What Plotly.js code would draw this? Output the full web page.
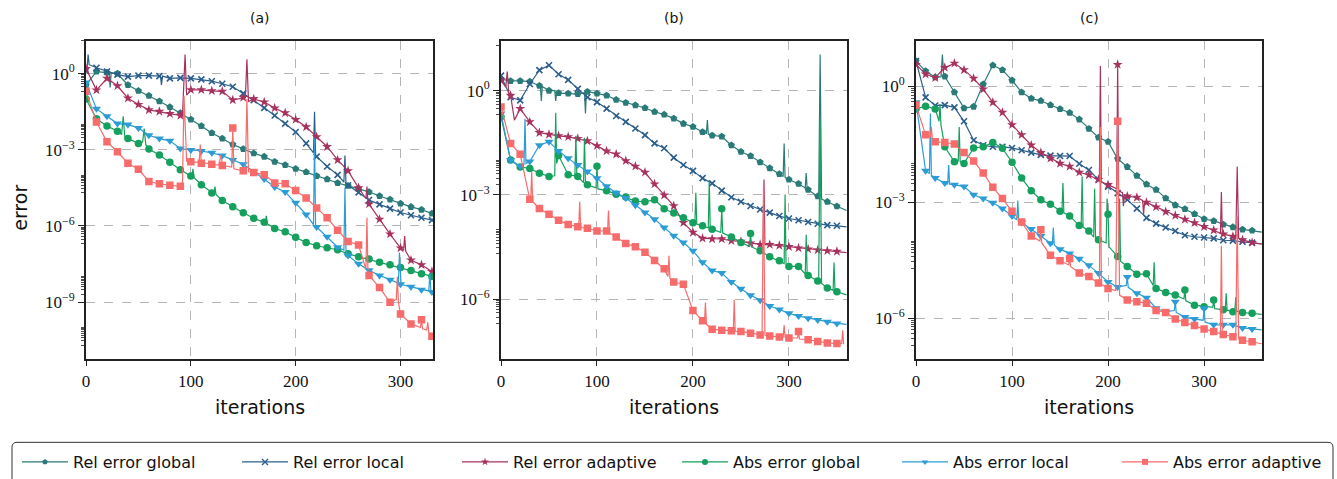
<!DOCTYPE html>
<html><head><meta charset="utf-8">
<script src="https://cdn.plot.ly/plotly-3.0.1.min.js"></script>
<style>html,body{margin:0;padding:0;background:#fff}#chart{width:1337px;height:479px}</style>
</head><body><div id="chart"></div>
<script>
// ---------------- DATA (values are log10(error)) ----------------
// Markers are at iterations 0,10,20,...; "extra" lists hold [iteration, log10(error)] points
// read between markers (spikes, kinks, end of curve).
const seriesNames = ['Rel error global','Rel error local','Rel error adaptive','Abs error global','Abs error local','Abs error adaptive'];
const markerStep = 10;
const xTicks = [0, 100, 200, 300];

// ---- panel (a) ----
const a_relGlobal = [-0.45,0.08,0.04,0.0,-0.45,-0.68,-0.87,-1.09,-1.32,-1.55,-1.81,-2.06,-2.34,-2.56,-2.79,-2.97,-3.14,-3.27,-3.47,-3.60,-3.75,-3.88,-4.03,-4.16,-4.31,-4.42,-4.53,-4.66,-4.82,-4.96,-5.12,-5.25,-5.36,-5.51];
const a_relGlobal_extra = [[22,0.04],[23,-0.55],[24,0.03]];
const a_relLocal = [0.1,0.23,0.08,-0.04,-0.12,-0.08,-0.08,-0.1,-0.19,-0.17,-0.19,-0.23,-0.3,-0.4,-0.52,-0.78,-1.05,-1.35,-1.65,-1.97,-2.30,-2.75,-3.27,-3.66,-3.99,-4.4,-4.68,-4.98,-5.15,-5.32,-5.47,-5.58,-5.68,-5.77];
const a_relLocal_extra = [[1,0.2],[2,0.75],[3,0.35],[71,-0.1],[72,-0.45],[73,-0.1],[217,-3.12],[218,-1.5],[219,-3.2],[246,-4.27],[247,-3.23],[248,-4.33]];
const a_relAdaptive = [0.2,-0.65,-0.19,-0.48,-0.97,-1.22,-1.43,-1.49,-1.58,-1.65,-0.64,-0.64,-0.68,-0.70,-1.04,-0.94,-1.0,-1.12,-1.36,-1.55,-1.81,-2.10,-2.49,-2.88,-3.40,-3.83,-4.50,-5.14,-5.74,-6.32,-6.87,-7.35,-7.53,-7.80];
const a_relAdaptive_extra = [[92,-1.68],[94.5,0.75],[96,-0.85],[152,-0.95],[153.5,0.56],[155,-1.1],[267,-4.92],[268,-4.45],[269,-5.1],[303,-6.95],[304,-6.4],[305,-7.0]];
const a_absGlobal = [-1.0,-1.78,-2.06,-2.27,-2.56,-2.75,-2.97,-3.21,-3.49,-3.79,-4.03,-4.38,-4.70,-5.0,-5.25,-5.48,-5.70,-5.86,-6.10,-6.23,-6.45,-6.65,-6.78,-6.86,-6.94,-7.10,-7.21,-7.30,-7.43,-7.53,-7.64,-7.76,-7.88,-7.99];
const a_absGlobal_extra = [[34,-2.4],[35.5,-1.68],[37,-2.5],[54,-2.7],[55.5,-2.17],[57,-2.8],[101,-4.1],[102,-3.75],[103,-4.1],[122,-4.74],[123,-4.45],[124,-4.76],[171,-5.88],[172,-5.6],[173,-5.92]];
const a_absLocal = [-0.35,-1.39,-1.68,-1.97,-2.01,-2.14,-2.43,-2.56,-2.65,-2.95,-3.01,-3.05,-3.12,-3.23,-3.40,-3.57,-3.86,-4.15,-4.47,-4.66,-5.09,-5.55,-6.04,-6.43,-6.84,-7.17,-7.49,-7.75,-7.95,-8.12,-8.30,-8.40,-8.51,-8.60];
const a_absLocal_extra = [[217,-5.95],[218,-2.55],[219,-6.0],[246,-6.95],[247,-4.5],[248,-7.0],[298,-8.25],[299,-7.05],[300.5,-8.3],[327,-8.56],[328,-7.85],[329,-8.58]];
const a_absAdaptive = [-0.7,-1.91,-2.69,-3.08,-3.53,-3.77,-4.25,-4.34,-4.40,-4.44,-3.47,-3.53,-3.57,-3.62,-2.14,-3.83,-3.90,-3.98,-4.31,-4.34,-4.61,-4.90,-5.29,-5.68,-6.17,-6.61,-6.75,-7.95,-8.43,-9.01,-9.47,-9.86,-9.70,-10.35];
const a_absAdaptive_extra = [[92,-4.45],[93.5,-0.87],[96,-3.45],[108,-3.5],[109,-2.79],[110.5,-3.5],[127,-3.6],[128.5,-3.2],[130.5,-3.62],[139,-3.68],[141,-3.75],[152,-3.85],[153.5,-1.0],[155,-3.87],[267,-7.7],[268,-5.68],[269,-7.9],[296,-8.9],[297,-8.0],[298,-9.0],[319,-10.0],[321,-10.05],[325,-10.1],[326,-9.8],[327,-10.2]];

// ---- panel (b) ----
const b_relGlobal = [0.33,0.28,0.28,0.26,0.14,0.0,-0.07,-0.08,-0.1,-0.03,-0.08,-0.14,-0.26,-0.35,-0.42,-0.5,-0.61,-0.69,-0.8,-0.95,-1.04,-1.19,-1.29,-1.32,-1.57,-1.76,-1.88,-2.06,-2.23,-2.4,-2.56,-2.68,-2.85,-3.04,-3.2,-3.33];
const b_relGlobal_extra = [[41,0.13],[42,-0.3],[43,0.12],[56,0.0],[57,-0.3],[58,-0.05],[87,-0.06],[88,-0.66],[89,-0.04],[214,-1.23],[215,-0.85],[216,-1.26],[294,-2.47],[295,-1.52],[296,-2.5],[317,-2.8],[318,-2.37],[319,-2.83],[331,-3.07],[332.5,1.04],[334,-3.12],[360,-3.45]];
const b_relLocal = [0.43,-0.19,-0.28,0.19,0.59,0.73,0.47,0.31,0.05,-0.19,-0.33,-0.52,-0.73,-0.90,-1.09,-1.28,-1.52,-1.66,-1.93,-2.14,-2.31,-2.52,-2.67,-2.88,-3.07,-3.2,-3.32,-3.42,-3.51,-3.61,-3.68,-3.73,-3.78,-3.83,-3.87,-3.89];
const b_relLocal_extra = [[360,-3.92]];
const b_relAdaptive = [0.3,-0.14,-0.52,-0.9,-1.21,-1.26,-1.30,-1.33,-1.38,-1.45,-1.59,-1.74,-1.83,-2.02,-2.18,-2.35,-2.69,-3.01,-3.32,-3.80,-4.08,-4.25,-4.27,-4.27,-4.32,-4.34,-4.39,-4.43,-4.43,-4.46,-4.49,-4.53,-4.56,-4.59,-4.61,-4.63];
const b_relAdaptive_extra = [[5,0.1],[6.5,0.55],[8,-0.05],[14,-0.85],[273,-4.43],[274,-2.56],[275,-4.43],[360,-4.66]];
const b_absGlobal = [-0.75,-2.0,-2.2,-2.24,-2.38,-2.47,-1.87,-2.42,-2.47,-2.71,-2.18,-2.88,-2.98,-3.06,-3.18,-3.2,-3.14,-3.40,-3.52,-3.66,-3.8,-3.89,-3.99,-3.40,-4.21,-4.37,-4.11,-4.61,-4.78,-4.90,-5.06,-5.06,-5.32,-5.48,-5.68,-5.79];
const b_absGlobal_extra = [[56,-2.45],[57,-0.64],[58,-2.1],[77,-2.45],[78,-1.3],[79,-2.45],[86,-2.65],[87,-1.36],[88,-2.68],[99,-2.8],[101,-2.83],[202,-3.82],[203,-2.94],[204,-3.84],[216,-3.95],[217,-2.58],[218,-3.97],[229,-4.08],[231,-4.1],[259,-4.48],[261,-4.5],[295,-4.98],[296,-2.99],[297,-5.0],[317,-5.28],[318,-4.15],[319,-5.3],[331,-5.5],[332.5,-0.85],[334,-5.55],[346,-5.75],[347,-4.95],[348,-5.77],[360,-5.88]];
const b_absLocal = [-0.66,-2.0,-2.18,-2.04,-1.57,-1.47,-1.74,-1.95,-2.14,-2.33,-2.52,-2.75,-2.94,-3.09,-3.3,-3.51,-3.70,-3.94,-4.18,-4.37,-4.61,-4.94,-5.18,-5.25,-5.51,-5.70,-5.89,-6.03,-6.2,-6.30,-6.41,-6.49,-6.55,-6.6,-6.65,-6.7];
const b_absLocal_extra = [[24,-2.1],[25,-0.81],[26,-2.1],[360,-6.73]];
const b_absAdaptive = [-0.47,-1.52,-1.83,-3.13,-3.39,-3.56,-3.73,-3.85,-3.92,-3.96,-4.04,-4.04,-4.21,-4.40,-4.49,-4.65,-4.89,-5.13,-5.51,-5.57,-6.33,-6.62,-6.87,-6.9,-6.91,-6.93,-6.98,-7.03,-7.06,-7.09,-7.12,-6.93,-7.17,-7.22,-7.26,-7.28];
const b_absAdaptive_extra = [[31,-3.15],[32,-2.33],[33,-3.2],[81,-3.93],[82,-3.2],[83,-3.94],[111,-4.04],[112,-3.45],[113,-4.1],[174,-5.35],[175,-4.75],[176,-5.4],[212,-6.68],[213,-6.1],[214,-6.72],[242,-6.91],[243,-6.03],[244,-6.92],[272,-7.03],[273.5,-2.75],[275,-7.04],[294,-7.1],[295,-6.75],[296,-7.1],[309,-7.12],[311,-7.15],[355,-7.28],[356,-6.9],[357,-7.3]];

// ---- panel (c) ----
const c_relGlobal = [0.66,0.40,0.24,0.26,-0.15,-0.56,-0.52,0.06,0.55,0.43,0.16,-0.15,-0.31,-0.37,-0.48,-0.58,-0.68,-0.85,-1.09,-1.32,-1.43,-1.87,-2.08,-2.31,-2.53,-2.67,-2.89,-3.07,-3.17,-3.30,-3.43,-3.48,-3.57,-3.64,-3.70,-3.73];
const c_relGlobal_extra = [[26,0.25],[27.5,0.83],[29,0.2],[360,-3.77]];
const c_relLocal = [0.66,-0.28,-0.49,-0.48,-0.54,-0.9,-1.39,-1.52,-1.56,-1.56,-1.59,-1.65,-1.71,-1.77,-1.79,-1.8,-1.8,-2.0,-2.16,-2.41,-2.59,-2.76,-2.93,-3.16,-3.40,-3.55,-3.65,-3.74,-3.85,-3.89,-3.91,-3.93,-3.98,-3.99,-4.02,-4.04];
const c_relLocal_extra = [[360,-4.07]];
const c_relAdaptive = [0.57,0.32,0.23,0.49,0.60,0.43,0.21,-0.07,-0.41,-0.67,-0.99,-1.25,-1.52,-1.71,-1.86,-1.99,-2.07,-2.22,-2.29,-2.41,-2.54,0.57,-2.84,-2.87,-3.0,-3.12,-3.24,-3.34,-3.44,-3.53,-3.63,-3.72,-3.82,-3.88,-3.97,-4.04];
const c_relAdaptive_extra = [[191,-2.43],[192,0.53],[193,-2.47],[209,-2.65],[211,-2.7],[215,-2.75],[216,-3.1],[217,-2.8],[236,-2.95],[237,-3.31],[238,-2.98],[317,-3.8],[318,-2.73],[319,-3.81],[333,-3.9],[334.5,-2.07],[336,-3.93],[360,-4.08]];
const c_absGlobal = [-0.58,-0.51,-0.58,-1.56,-1.95,-1.99,-1.59,-1.56,-1.45,-1.60,-1.96,-2.37,-2.70,-2.93,-3.05,-3.23,-3.35,-3.6,-3.74,-3.97,-3.31,-4.4,-4.66,-4.86,-4.85,-5.23,-5.33,-5.40,-5.27,-5.66,-5.70,-5.53,-5.78,-5.83,-5.85,-5.87];
const c_absGlobal_extra = [[24,-0.9],[25,-0.45],[26,-1.0],[44,-1.93],[45,-1.05],[46,-1.95],[152,-3.25],[153,-2.5],[154,-3.27],[172,-3.62],[173,-2.33],[174,-3.64],[185,-3.9],[186,-2.65],[187,-3.93],[198,-4.05],[199,-2.9],[201,-4.15],[211,-4.48],[212,-2.9],[213,-4.52],[247,-5.15],[248,-4.55],[249,-5.2],[279,-5.5],[281,-5.55],[309,-5.72],[311,-5.75],[322,-5.78],[323,-5.35],[324,-5.79],[332,-5.81],[333,-5.45],[334,-5.82],[360,-5.9]];
const c_absLocal = [-0.41,-2.18,-2.37,-2.5,-2.54,-2.59,-2.80,-2.90,-3.01,-3.16,-3.35,-3.52,-3.69,-3.87,-4.06,-4.21,-4.32,-4.46,-4.63,-4.83,-5.06,-5.19,-4.93,-5.35,-5.47,-5.74,-5.83,-5.57,-5.97,-6.02,-5.74,-6.17,-6.17,-6.17,-6.25,-6.28];
const c_absLocal_extra = [[14,-2.25],[15,-0.7],[16,-2.3],[33,-2.52],[34,-2.03],[35,-2.53],[105,-3.45],[106,-2.95],[107,-3.47],[142,-4.09],[143,-3.65],[144,-4.11],[219,-5.15],[221,-5.2],[269,-5.8],[271,-5.85],[299,-6.05],[301,-6.1],[360,-6.3]];
const c_absAdaptive = [-0.48,-1.25,-1.43,-1.45,-1.49,-1.71,-1.93,-2.24,-2.61,-2.90,-3.23,-3.51,-3.87,-3.71,-4.37,-4.51,-4.45,-4.83,-4.92,-5.09,-5.23,-0.9,-5.53,-5.57,-5.61,-5.80,-5.85,-6.02,-6.11,-6.19,-6.28,-6.34,-6.42,-6.48,-6.57,-6.61];
const c_absAdaptive_extra = [[15,-1.3],[16,-1.05],[17,-1.35],[129,-4.0],[131,-4.05],[159,-4.62],[161,-4.66],[191,-5.1],[192,-1.05],[193,-5.12],[208,-5.28],[212,-5.4],[317,-6.4],[318,-4.12],[319,-6.43],[333,-6.5],[334.5,-3.35],[336,-6.53],[360,-6.66]];

// ---------------- STYLE ----------------
const colors  = ['#2a7b77','#2b5e8c','#a8325e','#15a05e','#2c9cd6','#f76b6b'];
const symbols = ['pentagon','x-thin','star','circle','triangle-down','square'];
const msizes  = [7.5,6,7.5,7.5,8,7.5];

const panels = [
  {id:'', series:[[a_relGlobal,a_relGlobal_extra],[a_relLocal,a_relLocal_extra],[a_relAdaptive,a_relAdaptive_extra],[a_absGlobal,a_absGlobal_extra],[a_absLocal,a_absLocal_extra],[a_absAdaptive,a_absAdaptive_extra]]},
  {id:'2', series:[[b_relGlobal,b_relGlobal_extra],[b_relLocal,b_relLocal_extra],[b_relAdaptive,b_relAdaptive_extra],[b_absGlobal,b_absGlobal_extra],[b_absLocal,b_absLocal_extra],[b_absAdaptive,b_absAdaptive_extra]]},
  {id:'3', series:[[c_relGlobal,c_relGlobal_extra],[c_relLocal,c_relLocal_extra],[c_relAdaptive,c_relAdaptive_extra],[c_absGlobal,c_absGlobal_extra],[c_absLocal,c_absLocal_extra],[c_absAdaptive,c_absAdaptive_extra]]}
];

const traces = [];
panels.forEach(p => {
  p.series.forEach((s, i) => {
    const marks = s[0], extra = s[1];
    const pts = marks.map((v, k) => [k * markerStep, v]).concat(extra).sort((u, w) => u[0] - w[0]);
    traces.push({type:'scatter', mode:'lines', xaxis:'x'+p.id, yaxis:'y'+p.id, showlegend:false, hoverinfo:'skip',
      x: pts.map(q => q[0]), y: pts.map(q => Math.pow(10, q[1])),
      line:{color:colors[i], width:1.2}});
    const mk = {color:colors[i], size:msizes[i], symbol:symbols[i], line:{width:0}};
    if (symbols[i] === 'x-thin') mk.line = {width:1.6, color:colors[i]};
    traces.push({type:'scatter', mode:'markers', xaxis:'x'+p.id, yaxis:'y'+p.id, showlegend:false,
      x: marks.map((v, k) => k * markerStep), y: marks.map(v => Math.pow(10, v)), marker: mk});
  });
});
// legend entries (line + marker sample)
seriesNames.forEach((n, i) => {
  const mk = {color:colors[i], size:6, symbol:symbols[i], line:{width:0}};
  if (symbols[i] === 'x-thin') mk.line = {width:1.4, color:colors[i]};
  traces.push({type:'scatter', mode:'lines+markers', name:n, x:[null], y:[null], xaxis:'x', yaxis:'y',
    line:{color:colors[i], width:1.2}, marker:mk});
});

// ---------------- LAYOUT ----------------
const W = 1337, H = 479;
const yTop = 1 - 41 / H, yBot = 1 - 363 / H;
const sup = e => '10<sup>' + (e < 0 ? '\u2212' + (-e) : e) + '</sup>';
function minorTicks(kMin, kMax) {
  const v = [];
  for (let k = kMin; k <= kMax; k++) {
    if (k % 2 !== 0) continue;
    for (let m = 2; m <= 9; m++) v.push(m * Math.pow(10, k - 1));
    if (k % 3 !== 0) v.push(Math.pow(10, k));
  }
  return v;
}
const tickFont = {family:'"Liberation Serif","DejaVu Serif",serif', size:17, color:'#111'};
function xa(l, r, maxX) {
  return {domain:[l / W, r / W], range:[0, maxX], tickvals:xTicks, ticktext:xTicks.map(String),
    ticks:'outside', ticklen:5, tickwidth:1, tickcolor:'#222', tickfont:tickFont,
    showline:true, linecolor:'#222', linewidth:2, mirror:true, zeroline:false,
    showgrid:true, gridcolor:'#b5b5b5', griddash:'dash', gridwidth:1, fixedrange:true};
}
function ya(anchor, lo, hi, majors) {
  return {domain:[yBot, yTop], anchor:anchor, type:'log', range:[lo, hi],
    tickmode:'array', tickvals:majors.map(e => Math.pow(10, e)), ticktext:majors.map(sup),
    ticks:'outside', ticklen:6, tickwidth:1, tickcolor:'#222', tickfont:tickFont,
    minor:{tickmode:'array', tickvals:minorTicks(Math.floor(lo) - 1, Math.ceil(hi) + 1), ticks:'outside', ticklen:3.5, tickwidth:0.8, tickcolor:'#222', showgrid:false},
    showline:true, linecolor:'#222', linewidth:2, mirror:true, zeroline:false,
    showgrid:true, gridcolor:'#b5b5b5', griddash:'dash', gridwidth:1, fixedrange:true};
}
const sans = '"DejaVu Sans","Open Sans",sans-serif';
const ann = [];
[['(a)', 259.5], ['(b)', 674], ['(c)', 1089]].forEach(t => ann.push({text:t[0], x:t[1] / W, y:1 - 18 / H, xref:'paper', yref:'paper', showarrow:false, xanchor:'center', yanchor:'middle', font:{family:sans, size:14, color:'#111'}}));
[259.5, 674, 1089].forEach(cx => ann.push({text:'iterations', x:cx / W, y:1 - 411 / H, xref:'paper', yref:'paper', showarrow:false, xanchor:'center', yanchor:'middle', font:{family:sans, size:19, color:'#111'}}));
ann.push({text:'error', x:20 / W, y:1 - 210 / H, xref:'paper', yref:'paper', showarrow:false, textangle:-90, xanchor:'center', yanchor:'middle', font:{family:sans, size:19, color:'#111'}});

const bx0 = 12 / W, bx1 = 1333 / W, by1 = 1 - 447 / H, by0 = -0.05, rx = 5 / W, ry = 5 / H;
const boxPath = `M ${bx0 + rx},${by1} L ${bx1 - rx},${by1} Q ${bx1},${by1} ${bx1},${by1 - ry} L ${bx1},${by0} L ${bx0},${by0} L ${bx0},${by1 - ry} Q ${bx0},${by1} ${bx0 + rx},${by1} Z`;

const layout = {
  width:W, height:H, margin:{l:0, r:0, t:0, b:0}, paper_bgcolor:'#fff', plot_bgcolor:'#fff',
  showlegend:true,
  xaxis:xa(86, 433, 331), yaxis:ya('x', -11.25, 1.3, [-9, -6, -3, 0]),
  xaxis2:xa(501, 847, 360.5), yaxis2:ya('x2', -7.73, 1.44, [-6, -3, 0]),
  xaxis3:xa(916, 1262, 360.3), yaxis3:ya('x3', -7.06, 1.19, [-6, -3, 0]),
  annotations:ann,
  shapes:[{type:'path', xref:'paper', yref:'paper', path:boxPath, line:{color:'#333', width:1}, fillcolor:'rgba(0,0,0,0)'}],
  legend:{orientation:'h', x:19 / W, xanchor:'left', y:1 - 450 / H, yanchor:'top', bgcolor:'rgba(0,0,0,0)', borderwidth:0,
    font:{family:sans, size:16, color:'#111'}, itemwidth:46, entrywidth:159, entrywidthmode:'pixels', itemclick:false, itemdoubleclick:false}
};
Plotly.newPlot('chart', traces, layout, {displayModeBar:false, staticPlot:true});
</script></body></html>
